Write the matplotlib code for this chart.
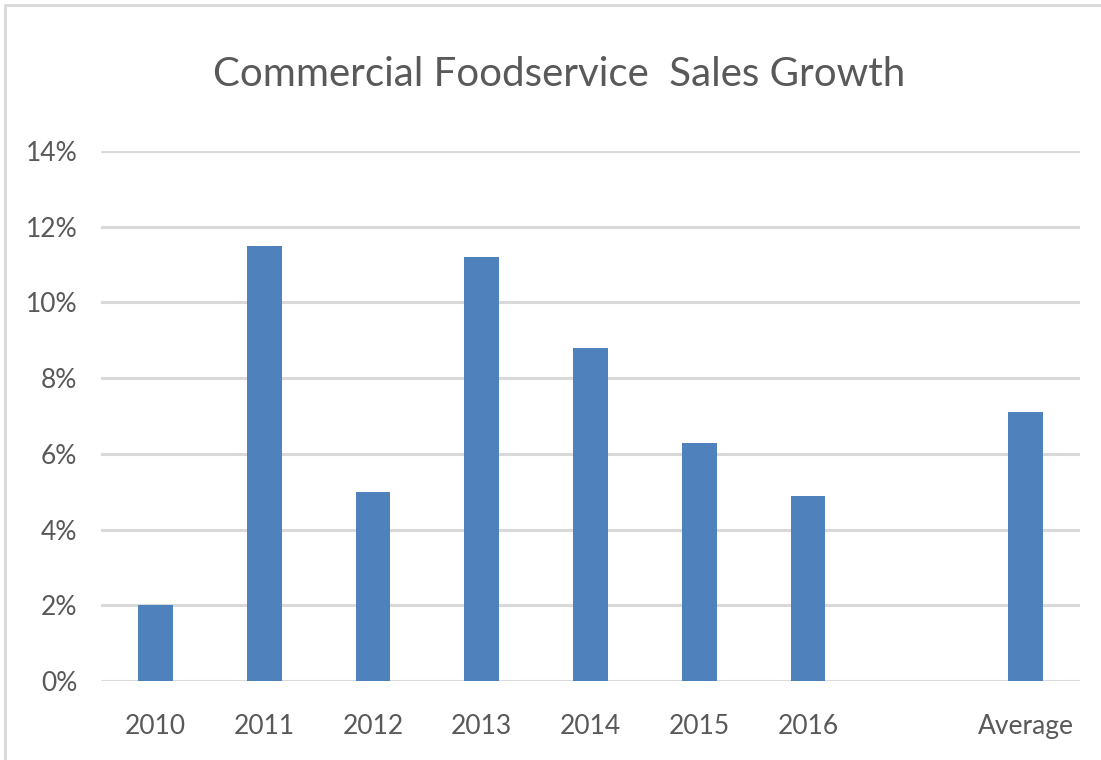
import numpy as np
import matplotlib.pyplot as plt
from matplotlib.patches import Rectangle
from matplotlib.ticker import PercentFormatter, MultipleLocator

# sales growth by year, blank slot before the average
years = ['2010', '2011', '2012', '2013', '2014', '2015', '2016', '', 'Average']
growth = [2.0, 11.5, 5.0, 11.2, 8.8, 6.3, 4.9, np.nan, 7.1]

text_color = '#595959'
bar_color = '#4f81bd'
grid_color = '#d9d9d9'

plt.rcParams['font.family'] = ['Lato', 'DejaVu Sans']

fig = plt.figure(figsize=(11.01, 7.60), dpi=100)
ax = fig.add_axes([101 / 1101, 79 / 760, 979 / 1101, 530 / 760])

x = np.arange(len(years))
ax.bar(x, growth, width=0.32, color=bar_color, zorder=3)

ax.set_xlim(-0.5, len(years) - 0.5)
ax.set_ylim(0, 14)
ax.yaxis.set_major_locator(MultipleLocator(2))
ax.yaxis.set_major_formatter(PercentFormatter(decimals=0))
ax.set_xticks(x)
ax.set_xticklabels(years)

ax.grid(axis='y', color=grid_color, linewidth=2.2, zorder=0)
for s in ax.spines.values():
    s.set_visible(False)
ax.tick_params(length=0, labelsize=19, colors=text_color)
ax.tick_params(axis='y', pad=17)
ax.tick_params(axis='x', pad=24)

fig.text(0.508, 1 - 74 / 760, 'Commercial Foodservice  Sales Growth',
         ha='center', va='center', fontsize=29, fontweight='normal',
         color=text_color)

# thin frame around the chart area
fig.add_artist(Rectangle((5 / 1101, -0.1), 1.2, 1.1 - 5 / 760,
                         transform=fig.transFigure, fill=False,
                         edgecolor=grid_color, linewidth=2))

fig.savefig('out.png', dpi=100)
